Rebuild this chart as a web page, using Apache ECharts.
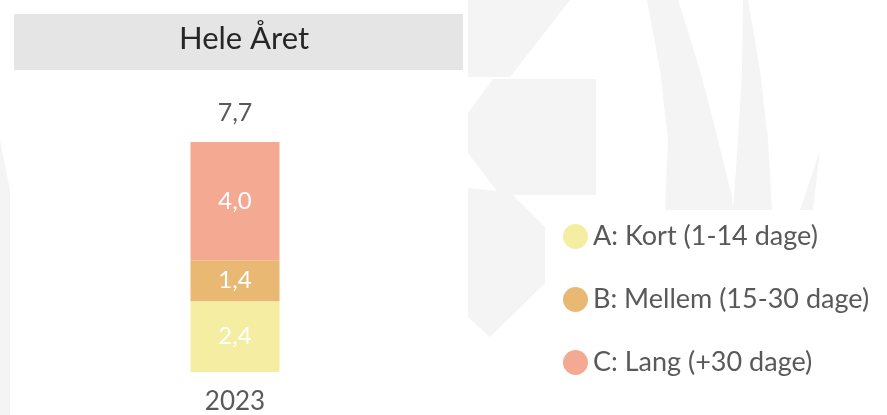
<!DOCTYPE html>
<html>
<head>
<meta charset="utf-8">
<script src="https://cdn.jsdelivr.net/npm/echarts@6/dist/echarts.min.js"></script>
<style>html,body{margin:0;padding:0;background:#fff}#c{width:887px;height:415px}</style>
</head>
<body>
<div id="c"></div>
<script>
const categories = ['2023'];
const seriesNames = ['A: Kort (1-14 dage)', 'B: Mellem (15-30 dage)', 'C: Lang (+30 dage)'];
const kortValues = [2.37];
const mellemValues = [1.38];
const langValues = [3.96];
const chartTitle = 'Hele Året';
const colors = ['#F5EDA2', '#E9B872', '#F4A993'];

const totals = categories.map((_, i) => kortValues[i] + mellemValues[i] + langValues[i]);
const fmt = v => Number(v).toFixed(1).replace('.', ',');
const FONT = 'Lato';
const wm = '#f4f4f4';

const chart = echarts.init(document.getElementById('c'), null, {renderer: 'canvas'});
const innerLabel = {
  show: true, position: 'inside', color: '#ffffff', fontFamily: FONT, fontSize: 24,
  formatter: p => fmt(p.value)
};
chart.setOption({
  animation: false,
  backgroundColor: '#ffffff',
  title: {
    text: chartTitle, left: 239, top: 18, textAlign: 'center',
    textStyle: {fontFamily: FONT, fontSize: 31, fontWeight: 'normal', color: '#262626'}
  },
  graphic: [
    {type: 'polygon', z: -5, shape: {points: [[468,0],[570,0],[510,77],[468,77]]}, style: {fill: wm}},
    {type: 'polygon', z: -5, shape: {points: [[493,79],[596,79],[596,195],[500,195],[468,153],[468,113]]}, style: {fill: wm}},
    {type: 'polygon', z: -5, shape: {points: [[468,188],[510,192],[545,227],[545,283],[490,337],[468,317]]}, style: {fill: wm}},
    {type: 'polygon', z: -5, shape: {points: [[647,0],[678,0],[700,70],[718,140],[732,197],[733,210],[665,210],[668,140],[660,70]]}, style: {fill: wm}},
    {type: 'polygon', z: -5, shape: {points: [[743,0],[748,0],[760,70],[768,140],[772,210],[733,210],[738,140],[742,70]]}, style: {fill: wm}},
    {type: 'polygon', z: -5, shape: {points: [[800,210],[813,210],[820,150]]}, style: {fill: wm}},
    {type: 'polygon', z: -5, shape: {points: [[0,140],[10,190],[10,415],[0,415]]}, style: {fill: wm}},
    {type: 'rect', z: -1, shape: {x: 14, y: 14, width: 449, height: 56}, style: {fill: '#e5e5e5'}}
  ],
  legend: {
    orient: 'vertical', left: 558, top: 218,
    data: seriesNames,
    icon: 'circle', itemWidth: 25, itemHeight: 25, itemGap: 36,
    textStyle: {fontFamily: FONT, fontSize: 27, color: '#595959', lineHeight: 25}
  },
  grid: {left: 14, right: 431, top: 142, bottom: 42, containLabel: false},
  xAxis: {
    type: 'category', data: categories,
    axisLine: {show: false}, axisTick: {show: false},
    axisLabel: {margin: 17, fontFamily: FONT, fontSize: 26, color: '#595959'}
  },
  yAxis: {
    type: 'value', min: 0, max: 'dataMax',
    show: false, splitLine: {show: false}
  },
  series: [
    {name: seriesNames[0], type: 'bar', stack: 't', barWidth: 89, data: kortValues, itemStyle: {color: colors[0]}, label: innerLabel},
    {name: seriesNames[1], type: 'bar', stack: 't', barWidth: 89, data: mellemValues, itemStyle: {color: colors[1]}, label: innerLabel},
    {name: seriesNames[2], type: 'bar', stack: 't', barWidth: 89, data: langValues, itemStyle: {color: colors[2]}, label: innerLabel},
    {name: 'Total', type: 'bar', stack: 't', barWidth: 89, data: categories.map(() => 0),
      itemStyle: {color: 'rgba(0,0,0,0)'},
      label: {show: true, position: 'top', distance: 17, fontFamily: FONT, fontSize: 25, color: '#595959',
        formatter: p => fmt(totals[p.dataIndex])}}
  ]
});
</script>
</body>
</html>
